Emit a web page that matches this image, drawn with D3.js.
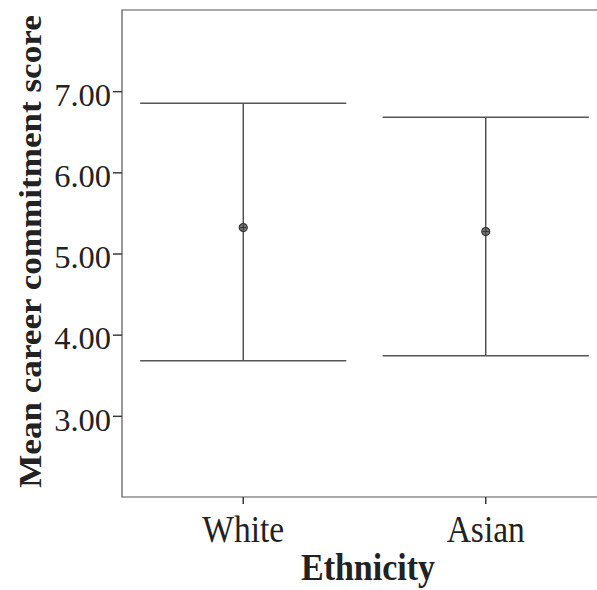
<!DOCTYPE html>
<html>
<head>
<meta charset="utf-8">
<script src="https://cdn.jsdelivr.net/npm/d3@7"></script>
<style>
  html, body { margin: 0; padding: 0; background: #fff; overflow: hidden; }
  svg { display: block; }
  text { font-family: "Liberation Serif", "Times New Roman", serif; fill: #222; }
</style>
</head>
<body>
<svg id="chart" width="597" height="590"></svg>
<script>
// Mean career commitment score by ethnicity, with error bars
const categories = ["White", "Asian"];
const means = [5.32, 5.27];
const upper = [6.85, 6.68];
const lower = [3.68, 3.74];
const yTicks = [3, 4, 5, 6, 7];

const svg = d3.select("#chart");
const plot = { left: 122, top: 10, right: 607, bottom: 497 };

const x = d3.scaleBand()
  .domain(categories)
  .range([plot.left, plot.right])
  .paddingInner(0)
  .paddingOuter(0);

const y = d3.scaleLinear()
  .domain([2, 8])
  .range([plot.bottom, plot.top]);

const ink = "#3a3a3a";

// frame (left, top, bottom edges)
svg.append("path")
  .attr("d", `M${plot.right},${plot.top}H${plot.left}V${plot.bottom}H${plot.right}`)
  .attr("fill", "none")
  .attr("stroke", "#555")
  .attr("stroke-width", 1.2);

// y axis
const yAxis = svg.append("g")
  .attr("transform", `translate(${plot.left},0)`)
  .call(d3.axisLeft(y).tickValues(yTicks).tickFormat(d3.format(".2f")).tickSize(9).tickPadding(2));
yAxis.select(".domain").remove();
yAxis.selectAll(".tick line").attr("stroke", ink).attr("stroke-width", 1.5);
yAxis.selectAll(".tick text")
  .attr("font-size", 32.5)
  .attr("dy", "0.44em")
  .attr("fill", "#222")
  .style("font-family", '"Liberation Serif", serif');

// x axis
const xAxis = svg.append("g")
  .attr("transform", `translate(0,${plot.bottom})`)
  .call(d3.axisBottom(x).tickSize(7));
xAxis.select(".domain").remove();
xAxis.selectAll(".tick line").attr("stroke", ink).attr("stroke-width", 1.5);
xAxis.selectAll(".tick text")
  .attr("y", 0)
  .attr("dy", 0)
  .attr("transform", "translate(0,45) scale(1,1.13)")
  .attr("font-size", 33.5)
  .attr("fill", "#222")
  .style("font-family", '"Liberation Serif", serif');

// axis titles
svg.append("text")
  .attr("transform", "translate(368,580) scale(1,1.09)")
  .attr("text-anchor", "middle")
  .attr("font-size", 34)
  .attr("font-weight", "bold")
  .text("Ethnicity");

svg.append("text")
  .attr("transform", "translate(41,251.5) rotate(-90) scale(1.08,1)")
  .attr("text-anchor", "middle")
  .attr("font-size", 32.5)
  .attr("font-weight", "bold")
  .text("Mean career commitment score");

// error bars
const capHalf = x.bandwidth() * 0.425;
const bars = svg.append("g")
  .selectAll("g")
  .data(categories.map((c, i) => ({ c, m: means[i], hi: upper[i], lo: lower[i] })))
  .join("g")
  .attr("transform", d => `translate(${x(d.c) + x.bandwidth() / 2},0)`);

bars.append("line")
  .attr("y1", d => y(d.hi)).attr("y2", d => y(d.lo))
  .attr("stroke", ink).attr("stroke-width", 1.3);
bars.append("line")
  .attr("x1", -capHalf).attr("x2", capHalf)
  .attr("y1", d => y(d.hi)).attr("y2", d => y(d.hi))
  .attr("stroke", "#555").attr("stroke-width", 1.5);
bars.append("line")
  .attr("x1", -capHalf).attr("x2", capHalf)
  .attr("y1", d => y(d.lo)).attr("y2", d => y(d.lo))
  .attr("stroke", "#555").attr("stroke-width", 1.5);

// mean markers: small circle with a cross inside
bars.append("circle")
  .attr("cy", d => y(d.m))
  .attr("r", 4)
  .attr("fill", "#777")
  .attr("stroke", "#333")
  .attr("stroke-width", 1.2);
bars.append("path")
  .attr("d", d => `M-3,${y(d.m)}H3M0,${y(d.m) - 3}V${y(d.m) + 3}`)
  .attr("stroke", "#333")
  .attr("stroke-width", 1);
</script>
</body>
</html>
